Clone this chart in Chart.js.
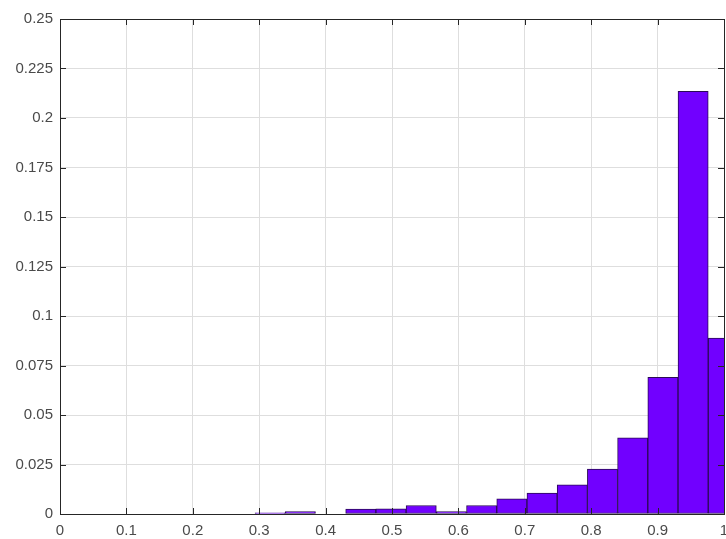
<!DOCTYPE html>
<html>
<head>
<meta charset="utf-8">
<script src="https://cdn.jsdelivr.net/npm/chart.js@4.4.0/dist/chart.umd.min.js"></script>
<style>
  html, body { margin: 0; padding: 0; background: #fff; }
  #wrap { width: 726px; height: 539px; }
</style>
</head>
<body>
<div id="wrap"><canvas id="myChart"></canvas></div>
<script>
"use strict";

// bin edges of the histogram
var binEdges = [0.294, 0.339, 0.385, 0.430, 0.476, 0.521, 0.567, 0.612, 0.658, 0.703, 0.749, 0.794, 0.840, 0.885, 0.931, 0.976, 1.022];
// probability per bin
var binValues = [0.0006, 0.0012, 0, 0.0025, 0.0026, 0.0043, 0.0012, 0.0043, 0.0076, 0.0106, 0.0147, 0.0227, 0.0385, 0.0690, 0.2135, 0.0888];
var xTicks = [0, 0.1, 0.2, 0.3, 0.4, 0.5, 0.6, 0.7, 0.8, 0.9, 1];
var yTicks = [0, 0.025, 0.05, 0.075, 0.1, 0.125, 0.15, 0.175, 0.2, 0.225, 0.25];

var points = binValues.map(function (v, i) {
    return { x: (binEdges[i] + binEdges[i + 1]) / 2, y: v };
});

function fmt(v) {
    return String(+v.toFixed(4));
}

// matlab style box with inward ticks on all four sides
var boxTicks = {
    id: 'boxTicks',
    afterDatasetsDraw: function (chart) {
        var ctx = chart.ctx, a = chart.chartArea;
        var xs = chart.scales.x, ys = chart.scales.y;
        ctx.save();
        ctx.strokeStyle = '#262626';
        ctx.lineWidth = 1;
        ctx.beginPath();
        xTicks.forEach(function (t) {
            var px = Math.round(xs.getPixelForValue(t)) + 0.5;
            ctx.moveTo(px, a.bottom); ctx.lineTo(px, a.bottom - 6);
            ctx.moveTo(px, a.top); ctx.lineTo(px, a.top + 6);
        });
        yTicks.forEach(function (t) {
            var py = Math.round(ys.getPixelForValue(t)) + 0.5;
            ctx.moveTo(a.left, py); ctx.lineTo(a.left + 6, py);
            ctx.moveTo(a.right, py); ctx.lineTo(a.right - 6, py);
        });
        ctx.stroke();
        ctx.strokeRect(Math.round(a.left) + 0.5, Math.round(a.top) + 0.5,
            Math.round(a.right - a.left), Math.round(a.bottom - a.top));
        ctx.restore();
    }
};

var ctx = document.getElementById('myChart').getContext('2d');
var chart = new Chart(ctx, {
    type: 'bar',
    data: {
        datasets: [{
            data: points,
            backgroundColor: '#7100ff',
            borderColor: '#2a0a55',
            borderWidth: 1,
            borderSkipped: false,
            barPercentage: 1,
            categoryPercentage: 1,
            clip: 0
        }]
    },
    options: {
        responsive: true,
        maintainAspectRatio: false,
        animation: false,
        layout: { padding: { top: 19, right: 2, left: 0, bottom: 0 } },
        plugins: {
            legend: { display: false },
            tooltip: { enabled: false }
        },
        scales: {
            x: {
                type: 'linear',
                min: 0,
                max: 1,
                offset: false,
                grid: { offset: false, color: '#dedede', drawTicks: false },
                border: { display: false },
                afterBuildTicks: function (s) { s.ticks = xTicks.map(function (v) { return { value: v }; }); },
                afterFit: function (s) { s.height = 25; s.paddingRight = 0; s.paddingLeft = 0; },
                ticks: {
                    padding: 8,
                    color: '#4a4a4a',
                    font: { family: 'Liberation Sans, Arial', size: 15 },
                    maxRotation: 0,
                    callback: function (v) { return fmt(v); }
                }
            },
            y: {
                min: 0,
                max: 0.25,
                grid: { color: '#dedede', drawTicks: false },
                border: { display: false },
                afterBuildTicks: function (s) { s.ticks = yTicks.map(function (v) { return { value: v }; }); },
                afterFit: function (s) { s.width = 60; s.paddingTop = 0; s.paddingBottom = 0; },
                ticks: {
                    padding: 7,
                    color: '#4a4a4a',
                    font: { family: 'Liberation Sans, Arial', size: 15 },
                    callback: function (v) { return fmt(v); }
                }
            }
        }
    },
    plugins: [boxTicks]
});
</script>
</body>
</html>
